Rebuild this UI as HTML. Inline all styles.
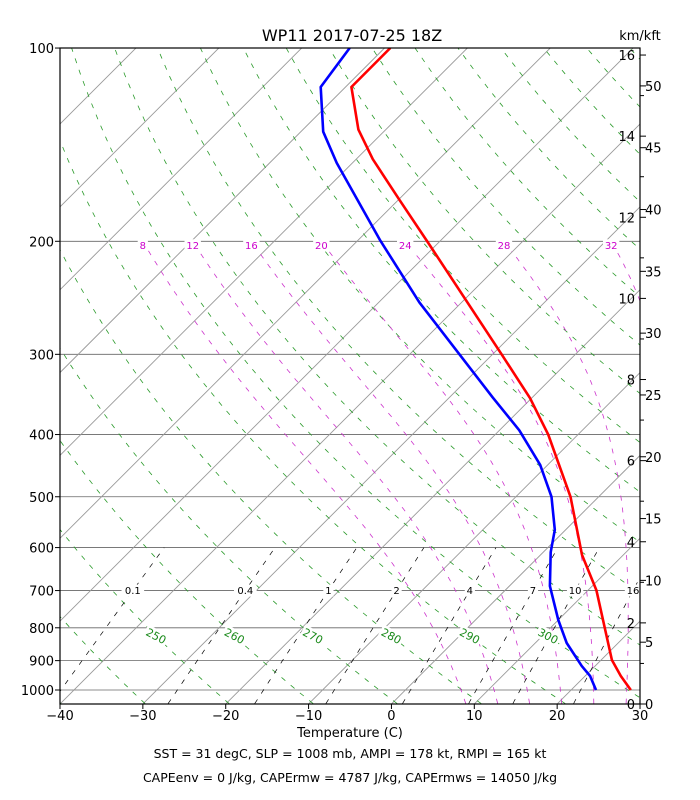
<!DOCTYPE html>
<html><head><meta charset="utf-8"><style>
html,body{margin:0;padding:0;background:#fff;}
svg{display:block;font-family:"DejaVu Sans","Liberation Sans",sans-serif;}
</style></head><body>
<svg id="chart" width="700" height="800" viewBox="0 0 700 800">
<defs><clipPath id="clip"><rect x="60" y="48" width="580" height="656"/></clipPath></defs>
<rect x="0" y="0" width="700" height="800" fill="#fff"/>
<g id="grid" clip-path="url(#clip)"></g>
<g id="labels"></g>
<g id="series" clip-path="url(#clip)"></g>
<rect x="60" y="48" width="580" height="656" fill="none" stroke="#000" stroke-width="1.2"/>
<g id="axes"></g>
<text x="352" y="41" text-anchor="middle" font-size="16">WP11 2017-07-25 18Z</text>
<text x="640" y="40" text-anchor="middle" font-size="13">km/kft</text>
<text x="350" y="737" text-anchor="middle" font-size="13">Temperature (C)</text>
<text x="350" y="758" text-anchor="middle" font-size="12.5">SST = 31 degC, SLP = 1008 mb, AMPI = 178 kt, RMPI = 165 kt</text>
<text x="350" y="782" text-anchor="middle" font-size="12.5">CAPEenv = 0 J/kg, CAPErmw = 4787 J/kg, CAPErmws = 14050 J/kg</text>
</svg>
<script>
const tempP=[1000,951,898,699,616,500,400,351,300,203,172,149,134,115,100];
const tempT=[27.2,24.3,21.3,11.0,5.0,-3.4,-13.6,-20.2,-28.9,-50.7,-60,-68,-73.3,-79.3,-79.3];
const dewP=[1000,951,918,845,778,689,610,563,500,446,394,350,249,199,151,135,115,100];
const dewT=[23.0,20.6,18.4,13.8,10.0,4.9,0.9,-1.3,-5.7,-10.9,-17.6,-24.8,-45.1,-57.4,-71.9,-77.3,-83,-84.2];
const pressureTicks=[100,200,300,400,500,600,700,800,900,1000];
const tempTicks=[-40,-30,-20,-10,0,10,20,30];
const thetaList=[];for(let t=200;t<=600;t+=10)thetaList.push(t);
const thetaLabels=[250,260,270,280,290,300];
const moistList=[8,12,16,20,24,28,32];
const mixList=[0.1,0.4,1,2,4,7,10,16];
const kmTicks=[0,2,4,6,8,10,12,14,16];
const kftTicks=[0,5,10,15,20,25,30,35,40,45,50];

const NS='http://www.w3.org/2000/svg';
function yOf(p){return 690+278.8*Math.log(p/1000);}
function xOf(T,p){return 60+(T+40)*8.286+(704-yOf(p));}
function mk(tag,attrs,parent){const e=document.createElementNS(NS,tag);for(const k in attrs)e.setAttribute(k,attrs[k]);parent.appendChild(e);return e;}
function pathFrom(pts){return pts.map((q,i)=>(i?'L':'M')+q[0].toFixed(1)+','+q[1].toFixed(1)).join('');}
const grid=document.getElementById('grid'),series=document.getElementById('series'),labels=document.getElementById('labels'),axes=document.getElementById('axes');

pressureTicks.forEach(p=>{const l=mk('line',{x1:60,x2:640,y1:yOf(p),y2:yOf(p),stroke:'#666','stroke-width':0.8},grid);

});
for(let T=-150;T<=40;T+=10){const l=mk('line',{x1:xOf(T,1050),y1:yOf(1050),x2:xOf(T,100),y2:yOf(100),stroke:'#999','stroke-width':0.9},grid);

}
thetaList.forEach(th=>{const pts=[];for(let p=1050;p>=100;p-=10){const T=th*Math.pow(p/1000,0.2857)-273.15;pts.push([xOf(T,p),yOf(p)]);}
const e=mk('path',{d:pathFrom(pts),fill:'none',stroke:'#2a9a2a','stroke-width':0.8,'stroke-dasharray':'5,7'},grid);

});
function es(Tc){return 6.112*Math.exp(17.67*Tc/(Tc+243.5));}
function dTdp(T,p){const Tc=T-273.15,e=es(Tc),rs=0.622*e/(p-e);return (287*T+2.501e6*rs)/(p*(1005+2.501e6*2.501e6*rs*0.622/(287*T*T)));}
const moistLabelPos={};
const MOIST_OFFSET=-1.3;
moistList.forEach(t0=>{let pts=[];let T=t0+MOIST_OFFSET+273.15,p=1000;
let T2=T;for(let pp=1000;pp<1050;pp+=1){T2+=dTdp(T2,pp)*1;}pts.push([xOf(T2-273.15,1050),yOf(1050)]);
while(p>200){pts.push([xOf(T-273.15,p),yOf(p)]);T-=dTdp(T,p)*1;p-=1;}
pts.push([xOf(T-273.15,200),yOf(200)]);moistLabelPos[t0]=xOf(T-273.15,200);
const e=mk('path',{d:pathFrom(pts),fill:'none',stroke:'#cc33cc','stroke-width':0.8,'stroke-dasharray':'5,7'},grid);

});
function tdOf(w,p){const e=w*p/(622+w),l=Math.log(e/6.112);return 243.5*l/(17.67-l);}
mixList.forEach(w=>{const pts=[];for(let p=1050;p>=600;p-=10)pts.push([xOf(tdOf(w,p),p),yOf(p)]);
const e=mk('path',{d:pathFrom(pts),fill:'none',stroke:'#000','stroke-width':0.7,'stroke-dasharray':'5,7'},grid);

});
function prof(P,T,color,name){const pts=P.map((p,i)=>[xOf(T[i],p),yOf(p)]);
const e=mk('path',{d:pathFrom(pts),fill:'none',stroke:color,'stroke-width':2.6,'stroke-linejoin':'round'},series);

}
prof(tempP,tempT,'#ff0000','temperature-line');
prof(dewP,dewT,'#0000ff','dewpoint-line');
function lab(x,y,txt,color,size,rot,name){const g=mk('g',{transform:'translate('+x+','+y+') rotate('+rot+')'},labels);
const w=txt.length*size*0.62+4;
mk('rect',{x:-w/2,y:-size*0.6,width:w,height:size*1.2,fill:'#fff'},g);
const t=mk('text',{x:0,y:size*0.36,'text-anchor':'middle','font-size':size,fill:color},g);t.textContent=txt;

}
mixList.forEach(w=>lab(xOf(tdOf(w,700),700),yOf(700),String(w),'#000',10,0,'mixing-ratio-label'));
moistList.forEach(t=>lab(moistLabelPos[t],yOf(200)+4,String(t),'#cc00cc',10,0,'moist-adiabat-label'));
thetaLabels.forEach(th=>{const p=824,T=th*Math.pow(p/1000,0.2857)-273.15;lab(xOf(T,p),yOf(p),String(th),'#1a8a1a',11,28,'dry-adiabat-label');});
pressureTicks.forEach(p=>{const y=yOf(p);mk('line',{x1:60,x2:55,y1:y,y2:y,stroke:'#000'},axes);
const t=mk('text',{x:54,y:y+5,'text-anchor':'end','font-size':13},axes);t.textContent=p;

});
tempTicks.forEach(T=>{const x=60+(T+40)*8.286;mk('line',{x1:x,x2:x,y1:704,y2:709,stroke:'#000'},axes);
const t=mk('text',{x:x,y:720,'text-anchor':'middle','font-size':13},axes);t.textContent=T<0?'\u2212'+(-T):T;

});
kmTicks.forEach(k=>{const y=704-k*40.56;mk('line',{x1:640,x2:646,y1:y,y2:y,stroke:'#000'},axes);
const t=mk('text',{x:635,y:y+5,'text-anchor':'end','font-size':13},axes);t.textContent=k;

});
for(let k=1;k<16;k+=2){const y=704-k*40.56;mk('line',{x1:640,x2:644,y1:y,y2:y,stroke:'#000'},axes);}
kftTicks.forEach(k=>{const y=704-k*12.362;mk('line',{x1:640,x2:646,y1:y,y2:y,stroke:'#000'},axes);
const t=mk('text',{x:645,y:y+5,'font-size':13},axes);t.textContent=k;

});
</script>
</body></html>
